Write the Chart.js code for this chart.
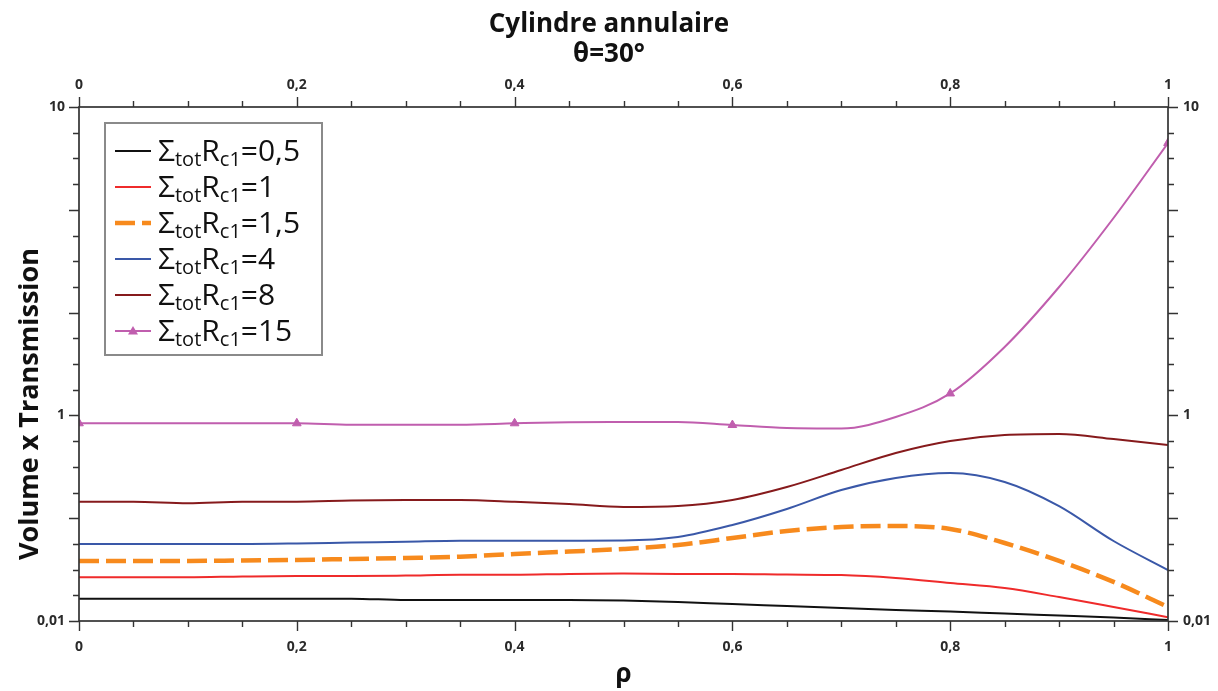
<!DOCTYPE html>
<html>
<head>
<meta charset="utf-8">
<title>Cylindre annulaire</title>
<script src="https://cdn.jsdelivr.net/npm/chart.js@4.4.0/dist/chart.umd.min.js"></script>
<style>
  html, body { margin: 0; padding: 0; background: #fff; }
</style>
</head>
<body>
<canvas id="chart" width="1218" height="691"></canvas>
<script>
// rho positions along the cylinder
const rho = [0, 0.05, 0.1, 0.15, 0.2, 0.25, 0.3, 0.35, 0.4, 0.45, 0.5,
             0.55, 0.6, 0.65, 0.7, 0.75, 0.8, 0.85, 0.9, 0.95, 1];

// Volume x Transmission, one list per Σtot·Rc1 value
const s0_5 = [0.0165, 0.0165, 0.0165, 0.0165, 0.0165, 0.0165, 0.016, 0.016, 0.016, 0.016, 0.0158,
              0.0153, 0.0146, 0.014, 0.0134, 0.0128, 0.0124, 0.0118, 0.0113, 0.0108, 0.0102];
const s1   = [0.0266, 0.0266, 0.0266, 0.0271, 0.0274, 0.0274, 0.0277, 0.0282, 0.0282, 0.0287, 0.0289,
              0.0287, 0.0287, 0.0283, 0.028, 0.0262, 0.0234, 0.0209, 0.0171, 0.0137, 0.0109];
const s1_5 = [0.0384, 0.0384, 0.0384, 0.0388, 0.0392, 0.0401, 0.041, 0.0422, 0.0449, 0.0474, 0.0502,
              0.0549, 0.0642, 0.0751, 0.0821, 0.084, 0.0785, 0.0574, 0.0384, 0.024, 0.0137];
const s4   = [0.0561, 0.0561, 0.0561, 0.0561, 0.0568, 0.058, 0.0591, 0.0604, 0.0604, 0.0604, 0.0607,
              0.0656, 0.0859, 0.123, 0.188, 0.246, 0.275, 0.225, 0.131, 0.06, 0.0313];
const s8   = [0.1447, 0.1447, 0.1396, 0.1447, 0.1447, 0.1487, 0.1503, 0.1503, 0.1447, 0.1374, 0.1285,
              0.1314, 0.1503, 0.2011, 0.2944, 0.4308, 0.5636, 0.6446, 0.6593, 0.5894, 0.5154];
const s15  = [0.838, 0.838, 0.838, 0.838, 0.838, 0.812, 0.812, 0.812, 0.838, 0.859, 0.863,
              0.863, 0.806, 0.754, 0.746, 0.965, 1.178, 1.667, 2.608, 4.366, 7.643];

const sigmaLabels = ['0,5', '1', '1,5', '4', '8', '15'];
const xTickLabels = ['0', '0,2', '0,4', '0,6', '0,8', '1'];
const yTickValues = [0.01, 1, 10];
const yTickLabels = ['0,01', '1', '10'];
const yTitle = 'Volume x Transmission';

const FONT = "'Open Sans', 'DejaVu Sans', sans-serif";
Chart.defaults.font.family = FONT;
Chart.defaults.color = '#2a2a2a';

// the original y axis is log-like but 0.01..1 takes 2 major steps and 1..10 takes 3
const toU = v => v >= 1 ? 2 + 3 * Math.log10(v) : 2 + Math.log10(v);
const fromU = u => u >= 2 ? Math.pow(10, (u - 2) / 3) : Math.pow(10, u - 2);

class BrokenLogScale extends Chart.Scale {
    determineDataLimits() { this.min = 0.01; this.max = 10; }
    buildTicks() { return yTickValues.map(v => ({ value: v })); }
    getLabelForValue(v) { return String(v); }
    getPixelForValue(v) { return this.getPixelForDecimal(toU(v) / 5); }
    getValueForPixel(p) { return fromU(this.getDecimalForPixel(p) * 5); }
    getPixelForTick(i) { return this.getPixelForValue(this.ticks[i].value); }
}
BrokenLogScale.id = 'brokenlog';
BrokenLogScale.defaults = {};
Chart.register(BrokenLogScale);

const pts = ys => rho.map((x, i) => ({ x: x, y: ys[i] }));

// ticks + frame, drawn like the original (outside, longer on majors)
const axisTicks = {
    id: 'axisTicks',
    afterDraw(chart) {
        const { ctx, chartArea: a, scales } = chart;
        ctx.save();
        ctx.strokeStyle = '#333';
        ctx.lineWidth = 1.7;
        ctx.strokeRect(a.left, a.top, a.right - a.left, a.bottom - a.top);
        ctx.lineWidth = 1.4;
        ctx.beginPath();
        for (let k = 0; k <= 20; k++) {
            const px = Math.round(scales.x.getPixelForValue(k * 0.05)) + 0.5;
            const len = k % 4 === 0 ? 10 : 6;
            ctx.moveTo(px, a.bottom); ctx.lineTo(px, a.bottom + len);
            ctx.moveTo(px, a.top); ctx.lineTo(px, a.top - len);
        }
        for (let k = 0; k <= 20; k++) {
            const py = Math.round(scales.y.getPixelForDecimal(k / 20)) + 0.5;
            const len = k % 4 === 0 ? 10 : 6;
            ctx.moveTo(a.left, py); ctx.lineTo(a.left - len, py);
            ctx.moveTo(a.right, py); ctx.lineTo(a.right + len, py);
        }
        ctx.stroke();

        // y title, placed like the original (a bit below the plot centre)
        ctx.translate(30, 404);
        ctx.rotate(-Math.PI / 2);
        ctx.fillStyle = '#111';
        ctx.font = 'bold 27px ' + FONT;
        ctx.textAlign = 'center';
        ctx.textBaseline = 'middle';
        ctx.fillText(yTitle, 0, 0);
        ctx.restore();
    }
};

// legend with subscripts: Σ_tot R_c1 = value
const subLegend = {
    id: 'subLegend',
    afterDraw(chart) {
        const ctx = chart.ctx;
        ctx.save();
        ctx.fillStyle = '#fff';
        ctx.fillRect(105, 123, 217, 232);
        ctx.strokeStyle = '#8a8a8a';
        ctx.lineWidth = 2;
        ctx.strokeRect(105, 123, 217, 232);
        chart.data.datasets.forEach((ds, i) => {
            const cy = 151 + i * 36;
            ctx.strokeStyle = ds.borderColor;
            ctx.lineWidth = ds.borderWidth;
            ctx.setLineDash(ds.borderDash || []);
            ctx.beginPath();
            ctx.moveTo(115, cy);
            ctx.lineTo(151, cy);
            ctx.stroke();
            ctx.setLineDash([]);
            if (ds.pointStyle === 'triangle') {
                ctx.fillStyle = ds.borderColor;
                ctx.beginPath();
                ctx.moveTo(133, cy - 5);
                ctx.lineTo(138, cy + 3.5);
                ctx.lineTo(128, cy + 3.5);
                ctx.closePath();
                ctx.fill();
            }
            ctx.fillStyle = '#111';
            ctx.textBaseline = 'alphabetic';
            let x = 158;
            const base = cy + 10;
            const parts = [['Σ', 0], ['tot', 1], ['R', 0], ['c1', 1], ['=' + sigmaLabels[i], 0]];
            parts.forEach(([t, sub]) => {
                ctx.font = (sub ? '20px ' : '30px ') + FONT;
                ctx.fillText(t, x, sub ? base + 5 : base);
                x += ctx.measureText(t).width;
            });
        });
        ctx.restore();
    }
};

const line = (ys, color, extra) => Object.assign({
    data: pts(ys),
    borderColor: color,
    backgroundColor: color,
    borderWidth: 2,
    pointRadius: 0,
    fill: false,
    cubicInterpolationMode: 'monotone'
}, extra || {});

const tickFont = { size: 14, weight: 'bold' };

new Chart(document.getElementById('chart').getContext('2d'), {
    type: 'line',
    data: {
        datasets: [
            line(s0_5, '#111111'),
            line(s1, '#ef2b2b'),
            line(s1_5, '#f78a1d', { borderWidth: 4.5, borderDash: [20, 7] }),
            line(s4, '#3a58a8'),
            line(s8, '#861a1c'),
            line(s15, '#c05eae', {
                pointStyle: 'triangle',
                pointRadius: ctx => ctx.dataIndex % 4 === 0 ? 5 : 0,
                pointBorderWidth: 1
            })
        ]
    },
    options: {
        responsive: false,
        animation: false,
        layout: { padding: 0 },
        plugins: {
            legend: { display: false },
            tooltip: { enabled: false },
            title: {
                display: true,
                text: ['Cylindre annulaire', 'θ=30°'],
                color: '#111',
                font: { size: 26, weight: 'bold', lineHeight: '30px' },
                padding: { top: 10, bottom: 0 }
            }
        },
        scales: {
            x: {
                type: 'linear', position: 'bottom', min: 0, max: 1,
                grid: { display: false, drawTicks: false },
                border: { display: false },
                ticks: { stepSize: 0.2, padding: 18, font: tickFont, callback: (v, i) => xTickLabels[i] },
                title: { display: true, text: 'ρ', color: '#111', font: { size: 26, weight: 'bold' }, padding: { top: 0, bottom: 1 } },
                afterFit: s => { s.height = 70; }
            },
            x2: {
                type: 'linear', position: 'top', min: 0, max: 1,
                grid: { display: false, drawTicks: false },
                border: { display: false },
                ticks: { stepSize: 0.2, padding: 14, font: tickFont, callback: (v, i) => xTickLabels[i] },
                afterFit: s => { s.height = 37; }
            },
            y: {
                type: 'brokenlog', position: 'left',
                grid: { display: false, drawTicks: false },
                border: { display: false },
                ticks: { padding: 14, font: tickFont, callback: (v, i) => yTickLabels[i] },
                afterFit: s => { s.width = 79; }
            },
            y2: {
                type: 'brokenlog', position: 'right',
                grid: { display: false, drawTicks: false },
                border: { display: false },
                ticks: { padding: 15, font: tickFont, callback: (v, i) => yTickLabels[i] },
                afterFit: s => { s.width = 50; }
            }
        }
    },
    plugins: [axisTicks, subLegend]
});
</script>
</body>
</html>
